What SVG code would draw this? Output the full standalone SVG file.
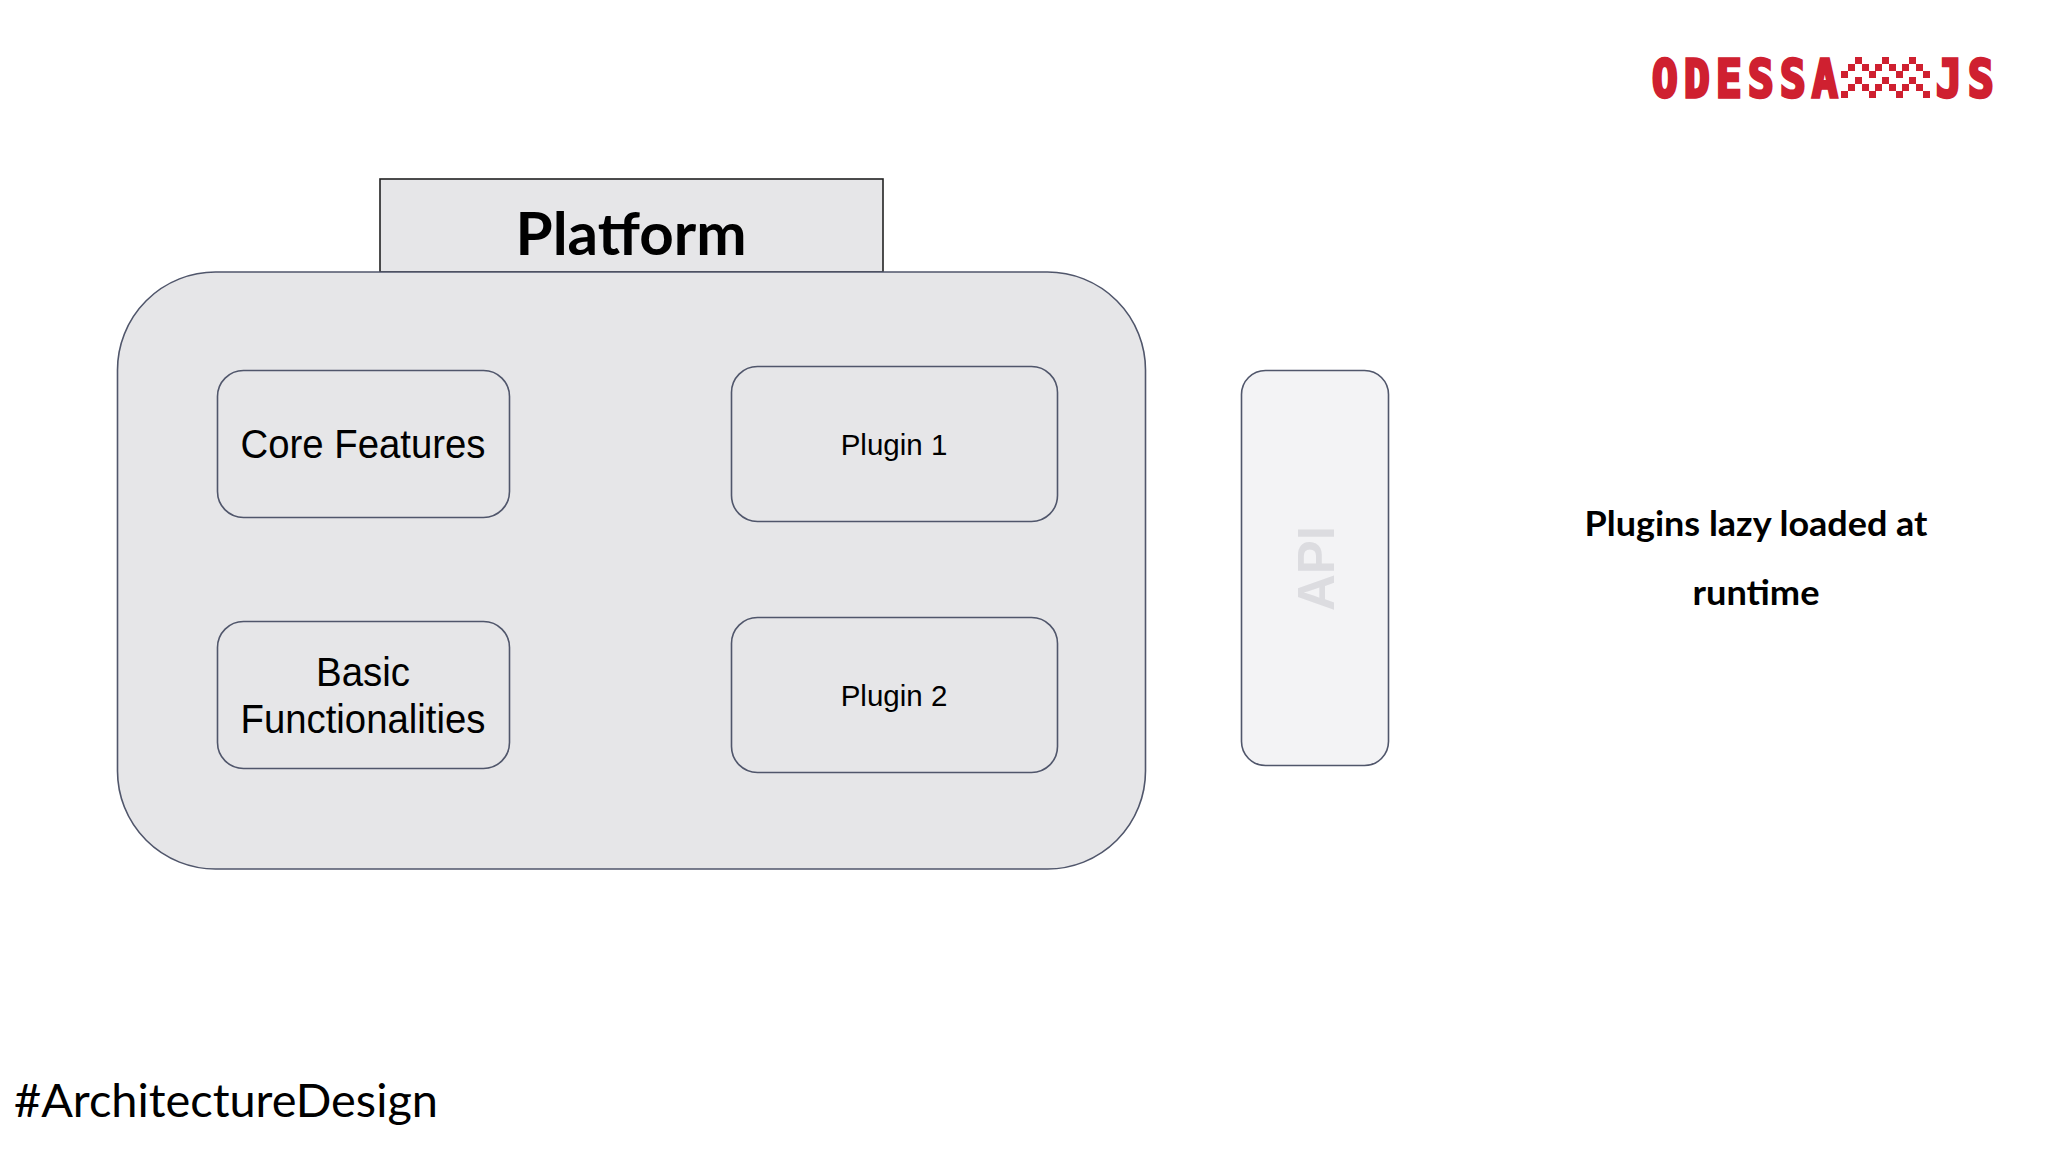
<svg xmlns="http://www.w3.org/2000/svg" width="2048" height="1152" viewBox="0 0 2048 1152">
<style>
.box{fill:#e6e6e8;stroke:#50566b;stroke-width:1.6}
.lbl{font-family:"Liberation Sans",Arial,sans-serif;fill:#000;text-anchor:middle}
.cal{font-family:Lato,"Open Sans",sans-serif;fill:#000;text-anchor:middle;font-weight:700}
.logo{font-family:"DejaVu Sans Mono",monospace;font-weight:700;font-size:52px;fill:#cf2030;stroke:#cf2030;stroke-width:3.5;stroke-linejoin:miter}
.z{fill:#cf2030}
</style>
<defs>
<g id="zig">
<rect class="z" x="1855" y="57" width="7" height="7"/><rect class="z" x="1882" y="57" width="7" height="7"/><rect class="z" x="1909" y="57" width="7" height="7"/>
<rect class="z" x="1848" y="64" width="7" height="7"/><rect class="z" x="1862" y="64" width="7" height="7"/><rect class="z" x="1875" y="64" width="7" height="7"/><rect class="z" x="1889" y="64" width="7" height="7"/><rect class="z" x="1902" y="64" width="7" height="7"/><rect class="z" x="1916" y="64" width="7" height="7"/>
<rect class="z" x="1841" y="71" width="7" height="7"/><rect class="z" x="1869" y="71" width="7" height="7"/><rect class="z" x="1896" y="71" width="7" height="7"/><rect class="z" x="1923" y="71" width="7" height="7"/>
</g>
</defs>
<rect width="2048" height="1152" fill="#fff"/>
<g id="logo">
<g transform="translate(1652,97) scale(.82,1)"><text class="logo" x="0 39 78 117 156 195">ODESSA</text></g>
<use href="#zig"/><use href="#zig" y="20"/>
<g transform="translate(1936,97) scale(.82,1)"><text class="logo" x="0 39">JS</text></g>
</g>
<g id="platform-tab"><rect x="380" y="179" width="503" height="93" fill="#e6e6e8" stroke="#222" stroke-width="1.6"/><text class="cal" x="631" y="255" font-size="60" textLength="231" lengthAdjust="spacingAndGlyphs">Platform</text></g>
<g id="platform"><rect class="box" x="117.500" y="272" width="1028" height="597" rx="98" ry="98"/></g>
<g id="core"><rect class="box" x="217.500" y="370.500" width="292" height="147" rx="26"/><text class="lbl" x="363" y="458" font-size="40" textLength="245" lengthAdjust="spacingAndGlyphs">Core Features</text></g>
<g id="basic"><rect class="box" x="217.500" y="621.500" width="292" height="147" rx="26"/><text class="lbl" x="363" y="686" font-size="40" textLength="94" lengthAdjust="spacingAndGlyphs">Basic</text><text class="lbl" x="363" y="733" font-size="40" textLength="245" lengthAdjust="spacingAndGlyphs">Functionalities</text></g>
<g id="plugin1"><rect class="box" x="731.500" y="366.500" width="326" height="155" rx="26"/><text class="lbl" x="894" y="455" font-size="29.500">Plugin 1</text></g>
<g id="plugin2"><rect class="box" x="731.500" y="617.500" width="326" height="155" rx="26"/><text class="lbl" x="894" y="706" font-size="29.500">Plugin 2</text></g>
<g id="api"><rect x="1241.500" y="370.500" width="147" height="395" rx="24" fill="#f3f3f5" stroke="#50566b" stroke-width="1.600"/><text class="lbl" transform="translate(1334,568.500) rotate(-90)" font-size="51" font-weight="700" style="fill:#dcdce0">API</text></g>
<g id="connectors"></g>
<text class="cal" x="1756" y="536" font-size="34" textLength="343" lengthAdjust="spacingAndGlyphs">Plugins lazy loaded at</text>
<text class="cal" x="1756" y="605" font-size="34" textLength="127" lengthAdjust="spacingAndGlyphs">runtime</text>
<text x="14" y="1117" font-family="Lato,'Open Sans',sans-serif" font-size="47" textLength="424" lengthAdjust="spacingAndGlyphs" fill="#000">#ArchitectureDesign</text>
</svg>
